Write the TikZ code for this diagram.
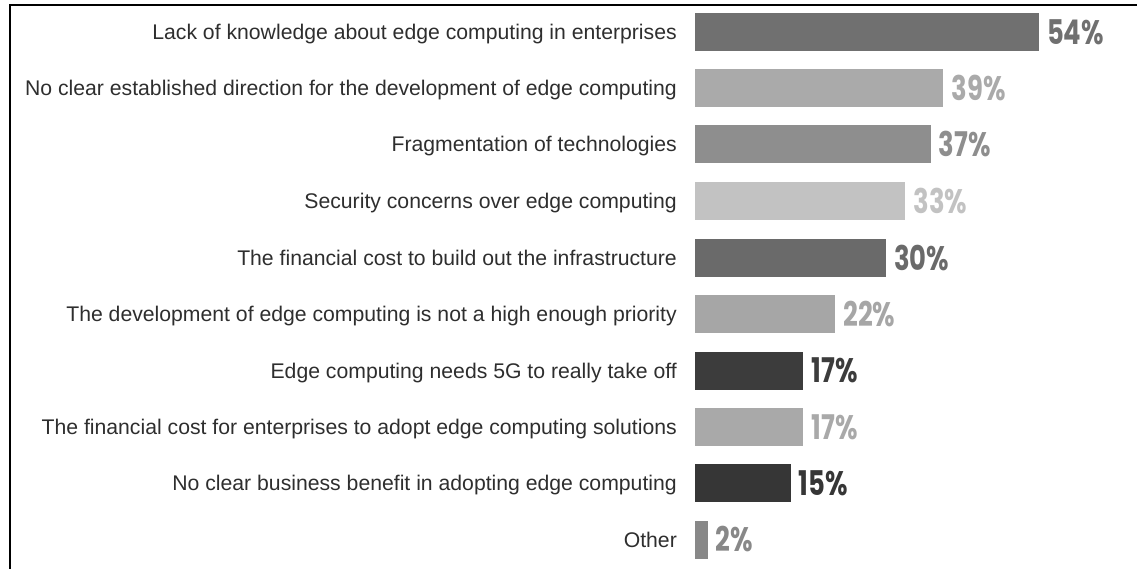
\documentclass[tikz,border=0pt]{standalone}
\usepackage{fontspec}
\setmainfont{Liberation Sans}
\newfontfamily\pctfont[FakeStretch=0.76]{Poppins}
\usetikzlibrary{positioning}
\definecolor{gA}{HTML}{707070}
\definecolor{gB}{HTML}{AAAAAA}
\definecolor{gC}{HTML}{8E8E8E}
\definecolor{gD}{HTML}{C2C2C2}
\definecolor{gE}{HTML}{6A6A6A}
\definecolor{gF}{HTML}{A6A6A6}
\definecolor{gG}{HTML}{3C3C3C}
\definecolor{gH}{HTML}{A9A9A9}
\definecolor{gI}{HTML}{363636}
\definecolor{gJ}{HTML}{888888}
\tikzset{
  lbl/.style={anchor=base east, inner sep=0pt, text=black!82, font=\fontsize{21.2}{25}\selectfont},
  pct/.style={anchor=base west, inner sep=0pt, font=\pctfont\bfseries\fontsize{34}{38}\selectfont}
}
\def\barrow(#1:#2:#3:#4)#5{%
  \fill[#3] (695,#1-19) rectangle (695+6.37*#2,#1+19);
  \node[lbl] (#4lbl) at (677,#1+7.5) {#5};
  \node[pct,text=#3] (#4pct) at (703+6.37*#2,#1+12) {#2\%};}

\begin{document}
\begin{tikzpicture}[x=1pt,y=-1pt]
			%%%%% START %%%%%
			\useasboundingbox (0,0) rectangle (1137,569);
			
			\draw[line width=2.5pt] (10,569) -- (10,5) -- (1137,5);
			
			\barrow(32.5:54:gA:know){Lack of knowledge about edge computing in enterprises}
			\barrow(88.5:39:gB:dir){No clear established direction for the development of edge computing}
			\barrow(144.5:37:gC:frag){Fragmentation of technologies}
			\barrow(201.5:33:gD:sec){Security concerns over edge computing}
			\barrow(258:30:gE:infra){The financial cost to build out the infrastructure}
			\barrow(314:22:gF:prio){The development of edge computing is not a high enough priority}
			\barrow(370.5:17:gG:fiveg){Edge computing needs 5G to really take off}
			\barrow(427:17:gH:adopt){The financial cost for enterprises to adopt edge computing solutions}
			\barrow(483:15:gI:bene){No clear business benefit in adopting edge computing}
			\barrow(539.5:2:gJ:other){Other}
			
			%%%%% END %%%%%
\end{tikzpicture}
\end{document}
